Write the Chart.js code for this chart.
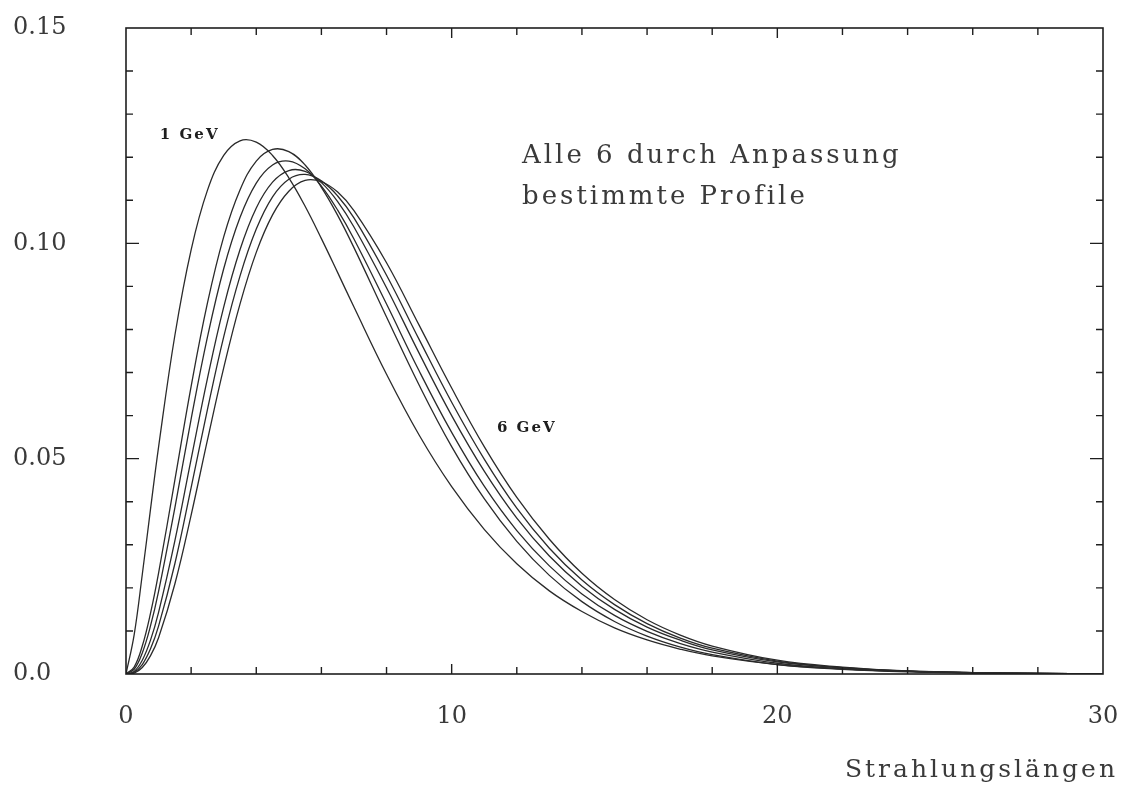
<!DOCTYPE html>
<html lang="de">
<head>
    <meta charset="UTF-8">
    <title>Schauerprofile</title>
    <script src="https://cdn.jsdelivr.net/npm/chart.js"></script>
    <style>
        body {
            margin: 0;
            background: #fff;
        }
        #wrap {
            width: 1124px;
            height: 792px;
        }
    </style>
</head>
<body>
    <div id="wrap"><canvas id="profile"></canvas></div>

    <script>
        // Tiefe in Strahlungslaengen
        const depth = [0, 0.25, 0.5, 0.75, 1, 1.5, 2, 2.5, 3, 3.5, 4, 4.5, 5, 5.5, 6, 6.5, 7,
                       8, 9, 10, 11, 12, 13, 14, 15, 16, 17, 18, 20, 22, 24, 26, 28, 30];

        // angepasste Profile, 1 GeV bis 6 GeV
        const e1 = [0, 0.0091, 0.0231, 0.0381, 0.0527, 0.0786, 0.0985, 0.1123, 0.1204, 0.1238, 0.1235, 0.1204, 0.1152, 0.1086, 0.1011, 0.0932, 0.0852,
                    0.0696, 0.0555, 0.0435, 0.0336, 0.0256, 0.0193, 0.0145, 0.0107, 0.0079, 0.0058, 0.0042, 0.0022, 0.0012, 0.0006, 0.0003, 0.00015, 0.00007];
        const e2 = [0, 0.0016, 0.0065, 0.0140, 0.0234, 0.0450, 0.0668, 0.0861, 0.1015, 0.1124, 0.1191, 0.1218, 0.1213, 0.1182, 0.1130, 0.1065, 0.0990,
                    0.0829, 0.0671, 0.0528, 0.0407, 0.0308, 0.0229, 0.0168, 0.0122, 0.0088, 0.0063, 0.0045, 0.0022, 0.0011, 0.0005, 0.00023, 0.00011, 0.00005];
        const e3 = [0, 0.0011, 0.0049, 0.0111, 0.0192, 0.0386, 0.0592, 0.0782, 0.0941, 0.1060, 0.1140, 0.1182, 0.1191, 0.1173, 0.1133, 0.1077, 0.1010,
                    0.0859, 0.0704, 0.0561, 0.0436, 0.0333, 0.0251, 0.0186, 0.0136, 0.0099, 0.0071, 0.0051, 0.0025, 0.0012, 0.0006, 0.00027, 0.00013, 0.00006];
        const e4 = [0, 0.0006, 0.0032, 0.0078, 0.0143, 0.0309, 0.0499, 0.0686, 0.0852, 0.0985, 0.1082, 0.1142, 0.1169, 0.1167, 0.1141, 0.1097, 0.1038,
                    0.0897, 0.0745, 0.0600, 0.0471, 0.0362, 0.0274, 0.0204, 0.0150, 0.0109, 0.0079, 0.0056, 0.0028, 0.0014, 0.00065, 0.0003, 0.00014, 0.00006];
        const e5 = [0, 0.0004, 0.0022, 0.0058, 0.0111, 0.0256, 0.0433, 0.0614, 0.0783, 0.0924, 0.1033, 0.1108, 0.1149, 0.1160, 0.1145, 0.1110, 0.1059,
                    0.0926, 0.0777, 0.0631, 0.0499, 0.0385, 0.0292, 0.0218, 0.0161, 0.0117, 0.0084, 0.0060, 0.0030, 0.00145, 0.0007, 0.00032, 0.00015, 0.00007];
        const e6 = [0, 0.0002, 0.0015, 0.0042, 0.0084, 0.0209, 0.0369, 0.0543, 0.0711, 0.0859, 0.0979, 0.1066, 0.1121, 0.1146, 0.1143, 0.1119, 0.1076,
                    0.0955, 0.0810, 0.0664, 0.0528, 0.0410, 0.0313, 0.0234, 0.0173, 0.0126, 0.0091, 0.0065, 0.0032, 0.0016, 0.0007, 0.00034, 0.00015, 0.00007];

        const energies = ['1 GeV', '2 GeV', '3 GeV', '4 GeV', '5 GeV', '6 GeV'];
        const profiles = [e1, e2, e3, e4, e5, e6];

        // Achsenbeschriftung
        const yTickLabels = { 0: '0.0', 5: '0.05', 10: '0.10', 15: '0.15' };
        const xTitle = 'Strahlungslängen';
        const noteLines = ['Alle 6 durch Anpassung', 'bestimmte Profile'];

        const ink = '#1e1e1e';
        const textInk = '#3a3a3a';
        const serif = '"DejaVu Serif", serif';

        // Rahmen mit nach innen zeigenden Strichen auf allen vier Seiten
        const framePlugin = {
            id: 'frame',
            afterDatasetsDraw(chart) {
                const { ctx, chartArea: a, scales: { x, y } } = chart;
                ctx.save();
                ctx.strokeStyle = ink;
                ctx.lineWidth = 1.6;
                ctx.strokeRect(a.left, a.top, a.right - a.left, a.bottom - a.top);

                ctx.lineWidth = 1.4;
                ctx.beginPath();
                for (let v = 2; v < 30; v += 2) {
                    const px = x.getPixelForValue(v);
                    const len = v % 10 === 0 ? 10 : 7;
                    ctx.moveTo(px, a.bottom); ctx.lineTo(px, a.bottom - len);
                    ctx.moveTo(px, a.top); ctx.lineTo(px, a.top + len);
                }
                for (let i = 1; i < 15; i++) {
                    const py = y.getPixelForValue(i / 100);
                    const len = i % 5 === 0 ? 13 : 7;
                    ctx.moveTo(a.left, py); ctx.lineTo(a.left + len, py);
                    ctx.moveTo(a.right, py); ctx.lineTo(a.right - len, py);
                }
                ctx.stroke();
                ctx.restore();
            },
            afterDraw(chart) {
                const { ctx, scales: { x, y } } = chart;
                ctx.save();
                ctx.fillStyle = textInk;
                ctx.textBaseline = 'alphabetic';
                ctx.textAlign = 'left';

                ctx.font = '26px ' + serif;
                ctx.letterSpacing = '3px';
                ctx.fillText(noteLines[0], x.getPixelForValue(12.16), y.getPixelForValue(0.1187));
                ctx.fillText(noteLines[1], x.getPixelForValue(12.16), y.getPixelForValue(0.1092));

                ctx.font = '25px ' + serif;
                ctx.textAlign = 'right';
                ctx.fillText(xTitle, 1118, 777);

                ctx.font = 'bold 15px ' + serif;
                ctx.letterSpacing = '2px';
                ctx.textAlign = 'left';
                ctx.textBaseline = 'middle';
                ctx.fillStyle = ink;
                ctx.fillText(energies[0], x.getPixelForValue(1.04), y.getPixelForValue(0.1252));
                ctx.fillText(energies[5], x.getPixelForValue(11.39), y.getPixelForValue(0.0572));
                ctx.restore();
            }
        };

        const datasets = profiles.map((p, k) => ({
            label: energies[k],
            data: depth.map((t, i) => ({ x: t, y: p[i] })),
            borderColor: '#2a2a2a',
            borderWidth: 1.3,
            pointRadius: 0,
            fill: false,
            tension: 0.4
        }));

        new Chart(document.getElementById('profile'), {
            type: 'line',
            data: { datasets },
            options: {
                responsive: true,
                maintainAspectRatio: false,
                animation: false,
                layout: { padding: { top: 28, right: 21, left: 13, bottom: 0 } },
                plugins: {
                    legend: { display: false },
                    tooltip: { enabled: false }
                },
                scales: {
                    x: {
                        type: 'linear',
                        min: 0,
                        max: 30,
                        // unsichtbare Striche schieben die Zahlen nach unten
                        grid: { display: true, drawOnChartArea: false, drawTicks: true, tickLength: 28, color: 'rgba(0,0,0,0)' },
                        border: { display: false },
                        ticks: {
                            stepSize: 10,
                            padding: 0,
                            color: textInk,
                            font: { family: serif, size: 24 },
                            callback: v => String(v)
                        },
                        afterFit: s => { s.height = 118; }
                    },
                    y: {
                        min: 0,
                        max: 0.15,
                        grid: { display: false },
                        border: { display: false },
                        ticks: {
                            stepSize: 0.05,
                            crossAlign: 'far',
                            color: textInk,
                            font: { family: serif, size: 24 },
                            callback: v => yTickLabels[Math.round(v * 100)] ?? ''
                        },
                        afterFit: s => { s.width = 113; }
                    }
                }
            },
            plugins: [framePlugin]
        });
    </script>
</body>
</html>
